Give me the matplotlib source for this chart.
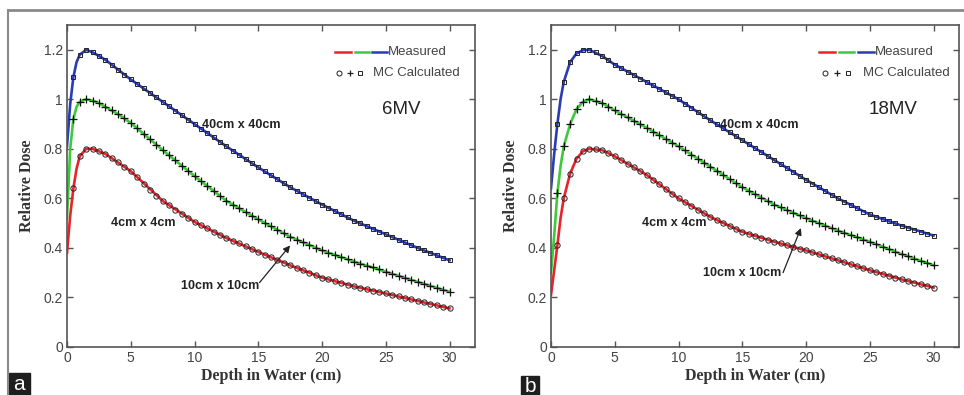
import numpy as np
import matplotlib
matplotlib.use("Agg")
import matplotlib.pyplot as plt
from matplotlib.lines import Line2D
from matplotlib.patches import Rectangle

# depths for the measured curves (cm)
meas_depth = [0, 0.25, 0.5, 0.75, 1, 1.5, 2, 2.5, 3, 4, 5, 7.5, 10, 12.5, 15, 17.5, 20, 22.5, 25, 27.5, 30]

# 6MV measured
meas_6_4x4 = [0.38, 0.53, 0.64, 0.72, 0.77, 0.80, 0.80, 0.79, 0.78, 0.745, 0.71, 0.59, 0.505, 0.44, 0.384, 0.33, 0.28, 0.245, 0.216, 0.186, 0.156]
meas_6_10x10 = [0.52, 0.80, 0.92, 0.97, 0.99, 1.0, 0.995, 0.985, 0.97, 0.94, 0.905, 0.795, 0.69, 0.59, 0.515, 0.445, 0.39, 0.345, 0.304, 0.263, 0.223]
meas_6_40x40 = [0.81, 0.98, 1.09, 1.15, 1.18, 1.20, 1.19, 1.175, 1.16, 1.12, 1.08, 0.99, 0.90, 0.81, 0.725, 0.645, 0.575, 0.51, 0.455, 0.40, 0.35]

# 18MV measured
meas_18_4x4 = [0.21, 0.31, 0.41, 0.52, 0.60, 0.70, 0.76, 0.79, 0.80, 0.795, 0.77, 0.695, 0.60, 0.525, 0.465, 0.425, 0.39, 0.35, 0.31, 0.273, 0.24]
meas_18_10x10 = [0.30, 0.45, 0.62, 0.73, 0.81, 0.90, 0.96, 0.99, 1.0, 0.985, 0.955, 0.885, 0.81, 0.728, 0.645, 0.575, 0.52, 0.47, 0.425, 0.375, 0.33]
meas_18_40x40 = [0.64, 0.78, 0.90, 1.00, 1.07, 1.15, 1.185, 1.198, 1.20, 1.175, 1.14, 1.07, 1.0, 0.915, 0.835, 0.755, 0.675, 0.60, 0.535, 0.49, 0.45]

# MC calculated points, every 0.5 cm from 0.5 to 30 cm
mc_depth = np.arange(0.5, 30.01, 0.5)

mc_6_4x4 = [0.64, 0.77, 0.80, 0.80, 0.79, 0.78, 0.763, 0.745, 0.728, 0.71,
            0.685, 0.66, 0.635, 0.61, 0.59, 0.572, 0.555, 0.538, 0.521, 0.505,
            0.492, 0.479, 0.466, 0.453, 0.44, 0.429, 0.418, 0.406, 0.395, 0.384,
            0.373, 0.362, 0.351, 0.34, 0.33, 0.32, 0.31, 0.30, 0.29, 0.28,
            0.273, 0.266, 0.259, 0.252, 0.245, 0.239, 0.233, 0.227, 0.221, 0.216,
            0.21, 0.204, 0.198, 0.192, 0.186, 0.18, 0.174, 0.168, 0.162, 0.156]
mc_6_10x10 = [0.92, 0.99, 1.0, 0.995, 0.985, 0.97, 0.955, 0.94, 0.923, 0.905,
              0.883, 0.861, 0.839, 0.817, 0.795, 0.774, 0.753, 0.732, 0.711, 0.69,
              0.67, 0.65, 0.63, 0.61, 0.59, 0.575, 0.56, 0.545, 0.53, 0.515,
              0.501, 0.487, 0.473, 0.459, 0.445, 0.434, 0.423, 0.412, 0.401, 0.39,
              0.381, 0.372, 0.363, 0.354, 0.345, 0.337, 0.329, 0.321, 0.313, 0.304,
              0.296, 0.288, 0.28, 0.272, 0.263, 0.255, 0.247, 0.239, 0.231, 0.223]
mc_6_40x40 = [1.09, 1.18, 1.20, 1.19, 1.175, 1.16, 1.14, 1.12, 1.10, 1.08,
              1.062, 1.044, 1.026, 1.008, 0.99, 0.972, 0.954, 0.936, 0.918, 0.90,
              0.882, 0.864, 0.846, 0.828, 0.81, 0.793, 0.776, 0.759, 0.742, 0.725,
              0.709, 0.693, 0.677, 0.661, 0.645, 0.631, 0.617, 0.603, 0.589, 0.575,
              0.562, 0.549, 0.536, 0.523, 0.51, 0.499, 0.488, 0.477, 0.466, 0.455,
              0.444, 0.433, 0.422, 0.411, 0.40, 0.39, 0.38, 0.37, 0.36, 0.35]

mc_18_4x4 = [0.41, 0.60, 0.70, 0.76, 0.79, 0.80, 0.80, 0.795, 0.783, 0.77,
             0.755, 0.74, 0.725, 0.71, 0.695, 0.676, 0.657, 0.638, 0.619, 0.60,
             0.585, 0.57, 0.555, 0.54, 0.525, 0.513, 0.501, 0.489, 0.477, 0.465,
             0.457, 0.449, 0.441, 0.433, 0.425, 0.418, 0.411, 0.404, 0.397, 0.39,
             0.382, 0.374, 0.366, 0.358, 0.35, 0.342, 0.334, 0.326, 0.318, 0.31,
             0.303, 0.295, 0.288, 0.28, 0.273, 0.266, 0.26, 0.253, 0.247, 0.24]
mc_18_10x10 = [0.62, 0.81, 0.90, 0.96, 0.99, 1.0, 0.993, 0.985, 0.97, 0.955,
               0.941, 0.927, 0.913, 0.899, 0.885, 0.87, 0.855, 0.84, 0.825, 0.81,
               0.794, 0.777, 0.761, 0.744, 0.728, 0.711, 0.695, 0.678, 0.662, 0.645,
               0.631, 0.617, 0.603, 0.589, 0.575, 0.564, 0.553, 0.542, 0.531, 0.52,
               0.51, 0.50, 0.49, 0.48, 0.47, 0.461, 0.452, 0.443, 0.434, 0.425,
               0.415, 0.405, 0.395, 0.385, 0.375, 0.366, 0.357, 0.348, 0.339, 0.33]
mc_18_40x40 = [0.90, 1.07, 1.15, 1.185, 1.198, 1.20, 1.19, 1.175, 1.158, 1.14,
               1.126, 1.112, 1.098, 1.084, 1.07, 1.056, 1.042, 1.028, 1.014, 1.0,
               0.983, 0.966, 0.949, 0.932, 0.915, 0.899, 0.883, 0.867, 0.851, 0.835,
               0.819, 0.803, 0.787, 0.771, 0.755, 0.739, 0.723, 0.707, 0.691, 0.675,
               0.66, 0.645, 0.63, 0.615, 0.60, 0.586, 0.573, 0.56, 0.547, 0.535,
               0.526, 0.517, 0.508, 0.499, 0.49, 0.482, 0.474, 0.466, 0.458, 0.45]

x_ticks = [0, 5, 10, 15, 20, 25, 30]
y_ticks = [0, 0.2, 0.4, 0.6, 0.8, 1.0, 1.2]
y_tick_labels = ["0", "0.2", "0.4", "0.6", "0.8", "1", "1.2"]

RED = "#e8232b"
GREEN = "#3ec93a"
BLUE = "#2a3cb4"
AXC = "#555555"
TXT = "#444444"

fig = plt.figure(figsize=(9.64, 3.95), dpi=100)
W, H = 964, 395


def panel(left_px, meas, mc, energy, lab_xy, arrow_from, arrow_to, big_lab_xy, energy_xy, leg):
    ax = fig.add_axes([left_px / W, (H - 347) / H, 408 / W, 322 / H])
    r, g, b = meas
    ax.plot(meas_depth, r, color=RED, lw=1.9, zorder=2)
    ax.plot(meas_depth, g, color=GREEN, lw=1.9, zorder=2)
    ax.plot(meas_depth, b, color=BLUE, lw=1.9, zorder=2)
    mr, mg, mb = mc
    ax.plot(mc_depth, mr, ls="none", marker="o", ms=3.8, mfc="none", mec="#222222", mew=0.7, zorder=3)
    ax.plot(mc_depth, mg, ls="none", marker="+", ms=5.5, mec="#111111", mew=0.9, zorder=3)
    ax.plot(mc_depth, mb, ls="none", marker="s", ms=3.5, mfc="none", mec="#222222", mew=0.7, zorder=3)

    ax.set_xlim(0, 32)
    ax.set_ylim(0, 1.3)
    ax.set_xticks(x_ticks)
    ax.set_yticks(y_ticks)
    ax.set_yticklabels(y_tick_labels)
    ax.tick_params(direction="in", length=4, width=1, color=AXC, top=True, right=True,
                   labelsize=10, labelcolor=TXT, pad=3)
    for t in ax.get_xticklabels() + ax.get_yticklabels():
        t.set_family("Liberation Sans")
    for s in ax.spines.values():
        s.set_color(AXC)
        s.set_linewidth(1.2)

    ax.set_xlabel("Depth in Water (cm)", family="Liberation Serif", fontweight="bold",
                  fontsize=11.5, color="#333333", labelpad=2)
    ax.set_ylabel("Relative Dose", family="Liberation Serif", fontweight="bold",
                  fontsize=11.5, color="#333333", labelpad=6)

    bold = dict(family="Liberation Sans", fontweight="bold", fontsize=9, color="#222222")
    ax.text(big_lab_xy[0], big_lab_xy[1], "40cm x 40cm", ha="center", va="center", **bold)
    ax.text(lab_xy[0][0], lab_xy[0][1], "4cm x 4cm", ha="center", va="center", **bold)
    ax.text(lab_xy[1][0], lab_xy[1][1], "10cm x 10cm", ha="center", va="center", **bold)
    ax.annotate("", xy=arrow_to, xytext=arrow_from,
                arrowprops=dict(arrowstyle="-|>", color="#222222", lw=0.9,
                                mutation_scale=10, shrinkA=0, shrinkB=0))
    ax.text(energy_xy[0], energy_xy[1], energy, ha="center", va="center",
            family="Liberation Sans", fontsize=13.5, color="#222222")

    # hand-made legend as in the original figure
    x0, x1, x2, x3, xt, xm = leg
    ax.plot([x0, x1 - 0.15], [1.19, 1.19], color=RED, lw=1.8)
    ax.plot([x1 + 0.15, x2 - 0.15], [1.19, 1.19], color=GREEN, lw=1.8)
    ax.plot([x2 + 0.15, x3], [1.19, 1.19], color=BLUE, lw=1.8)
    ax.text(x3 + 0.1, 1.19, "Measured", ha="left", va="center",
            family="Liberation Sans", fontsize=9.5, color=TXT)
    ax.plot([xm[0]], [1.105], marker="o", ms=3.6, mfc="none", mec="#222222", mew=0.7)
    ax.plot([xm[1]], [1.105], marker="+", ms=5, mec="#222222", mew=0.9)
    ax.plot([xm[2]], [1.105], marker="s", ms=3.4, mfc="none", mec="#222222", mew=0.7)
    ax.text(xt, 1.105, "MC Calculated", ha="left", va="center",
            family="Liberation Sans", fontsize=9.5, color=TXT)
    return ax


panel(67, (meas_6_4x4, meas_6_10x10, meas_6_40x40), (mc_6_4x4, mc_6_10x10, mc_6_40x40),
      "6MV", [(6.0, 0.50), (12.0, 0.245)], (15.1, 0.26), (17.5, 0.41),
      (13.7, 0.895), (26.2, 0.96),
      (21.0, 22.4, 23.8, 25.1, 24.0, (21.3, 22.2, 23.0)))
panel(551, (meas_18_4x4, meas_18_10x10, meas_18_40x40), (mc_18_4x4, mc_18_10x10, mc_18_40x40),
      "18MV", [(9.7, 0.50), (15.0, 0.30)], (18.2, 0.30), (19.6, 0.48),
      (16.3, 0.895), (26.8, 0.96),
      (21.0, 22.45, 23.9, 25.3, 24.5, (21.5, 22.4, 23.3)))

# outer frame lines and panel letters
fig.add_artist(Line2D([8 / W, 1.0], [1 - 9.5 / H, 1 - 9.5 / H], color="#8a8a8a", lw=2))
fig.add_artist(Line2D([8 / W, 8 / W], [0, 1 - 9.5 / H], color="#8a8a8a", lw=1.5))
fig.add_artist(Rectangle((8 / W, 0), 22 / W, 22 / H, color="#1e1e1e"))
fig.add_artist(Rectangle((521 / W, 0), 18 / W, 19 / H, color="#1e1e1e"))
fig.text(19 / W, 10 / H, "a", ha="center", va="center", color="white",
         family="Liberation Sans", fontsize=15)
fig.text(530 / W, 9 / H, "b", ha="center", va="center", color="white",
         family="Liberation Sans", fontsize=15)

fig.savefig("out.png", dpi=100)
